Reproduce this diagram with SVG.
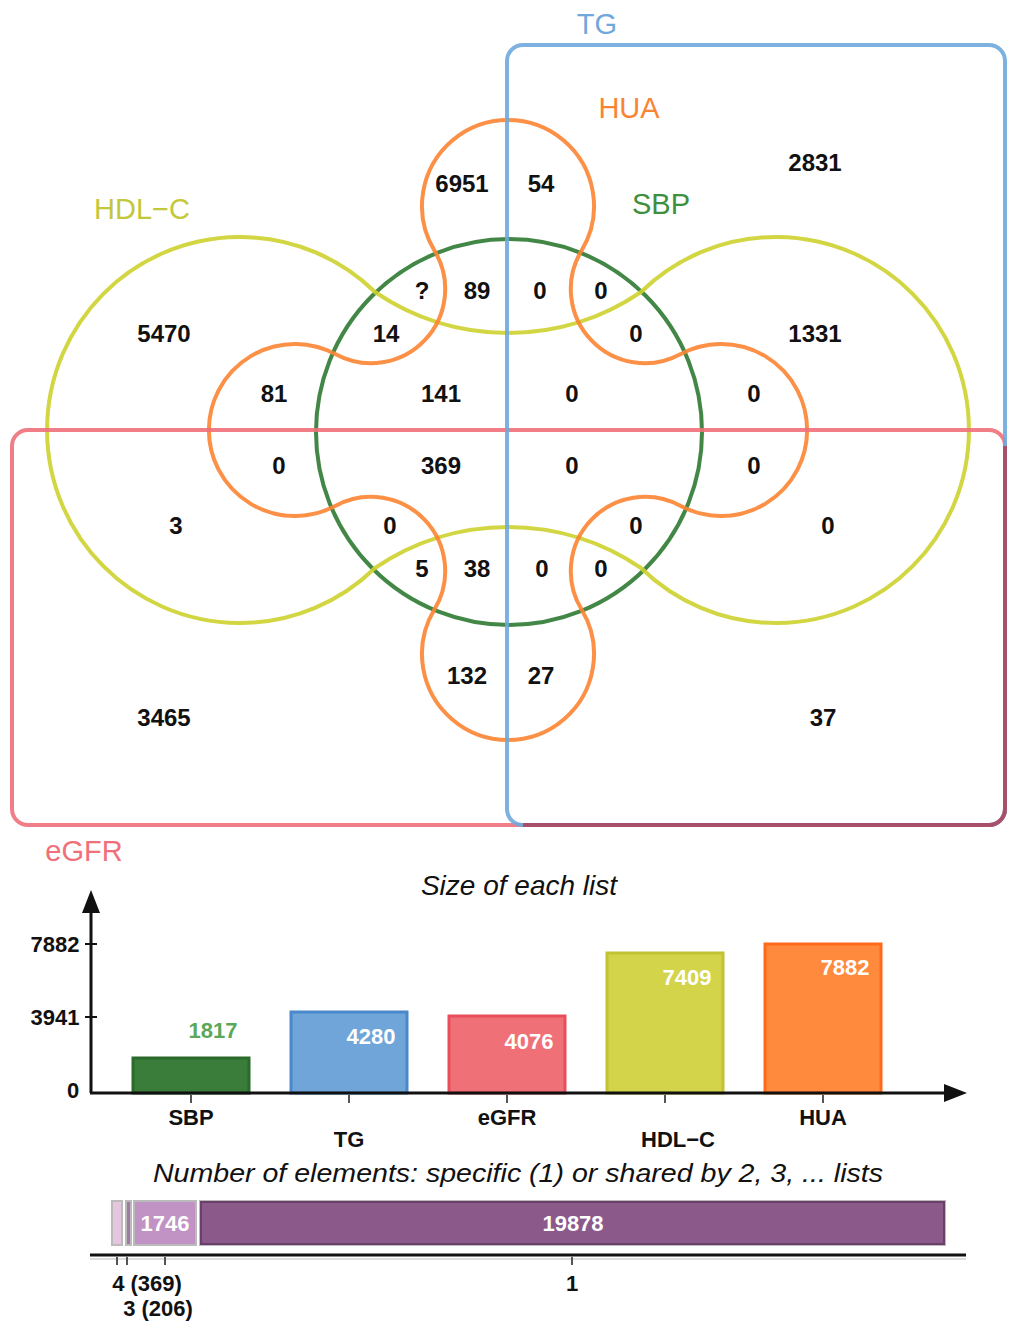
<svg xmlns="http://www.w3.org/2000/svg" width="1018" height="1328" viewBox="0 0 1018 1328">
<style>
.n{font-family:"Liberation Sans",Arial,sans-serif;font-weight:bold;font-size:24px;fill:#111;text-anchor:middle}
.lab{font-family:"Liberation Sans",Arial,sans-serif;font-size:29px;text-anchor:middle}
.ax{font-family:"Liberation Sans",Arial,sans-serif;font-weight:bold;font-size:22px;fill:#111;text-anchor:middle}
.bv{font-family:"Liberation Sans",Arial,sans-serif;font-weight:bold;font-size:22px;fill:#fff;text-anchor:middle}
.tt{font-family:"Liberation Sans",Arial,sans-serif;font-style:italic;font-size:28px;fill:#111;text-anchor:middle}
.sh{fill:none;stroke-width:4;stroke-opacity:0.9}
</style>
<rect width="1018" height="1328" fill="#fff"/>
<g id="venn">
<g id="sbp"><circle class="sh" cx="509" cy="432" r="193" stroke="#2e7a32"/></g>
<g id="hdlc"><path class="sh" stroke="#cdd22f" d="M375,292 A236,236 0 0 0 641,292 A193,193 0 1 1 641,568 A236,236 0 0 0 375,568 A193,193 0 1 1 375,292 Z"/></g>
<g id="hua"><path class="sh" stroke="#fb8432" d="M434.4,250.5 A86,86 0 1 1 581.6,250.5 A74.2,74.2 0 0 0 680.3,354.3 A86,86 0 1 1 680.3,505.7 A74.2,74.2 0 0 0 581.6,609.5 A86,86 0 1 1 434.4,609.5 A74.2,74.2 0 0 0 335.7,505.7 A86,86 0 1 1 335.7,354.3 A74.2,74.2 0 0 0 434.4,250.5 Z"/></g>
<g id="egfr"><rect class="sh" x="12" y="430" width="993" height="395" rx="16" stroke="#f0707a"/></g>
<g id="tg"><rect class="sh" x="507" y="45" width="498" height="780" rx="16" stroke="#6fa8dc"/></g>
<path d="M1005,446 V809 A16,16 0 0 1 989,825 H523" fill="none" stroke="#a8506a" stroke-width="4"/>
</g>
<g id="labels">
<text class="lab" x="597" y="34" fill="#6fa8dc">TG</text>
<text class="lab" x="629" y="118" fill="#fb8432">HUA</text>
<text class="lab" x="661" y="214" fill="#3e8f3e">SBP</text>
<text class="lab" x="142" y="219" fill="#c3c83a">HDL−C</text>
<text class="lab" x="84" y="861" fill="#f0707a">eGFR</text>
</g>
<g id="counts">
<text class="n" x="462" y="192">6951</text>
<text class="n" x="541" y="192">54</text>
<text class="n" x="815" y="171">2831</text>
<text class="n" x="422" y="299">?</text>
<text class="n" x="477" y="299">89</text>
<text class="n" x="540" y="299">0</text>
<text class="n" x="601" y="299">0</text>
<text class="n" x="164" y="342">5470</text>
<text class="n" x="386" y="342">14</text>
<text class="n" x="636" y="342">0</text>
<text class="n" x="815" y="342">1331</text>
<text class="n" x="274" y="402">81</text>
<text class="n" x="441" y="402">141</text>
<text class="n" x="572" y="402">0</text>
<text class="n" x="754" y="402">0</text>
<text class="n" x="279" y="474">0</text>
<text class="n" x="441" y="474">369</text>
<text class="n" x="572" y="474">0</text>
<text class="n" x="754" y="474">0</text>
<text class="n" x="176" y="534">3</text>
<text class="n" x="390" y="534">0</text>
<text class="n" x="636" y="534">0</text>
<text class="n" x="828" y="534">0</text>
<text class="n" x="422" y="577">5</text>
<text class="n" x="477" y="577">38</text>
<text class="n" x="542" y="577">0</text>
<text class="n" x="601" y="577">0</text>
<text class="n" x="467" y="684">132</text>
<text class="n" x="541" y="684">27</text>
<text class="n" x="164" y="726">3465</text>
<text class="n" x="823" y="726">37</text>
</g>
<g id="barchart">
<text class="tt" x="519" y="895">Size of each list</text>
<g id="bar-sbp"><rect x="133" y="1058" width="116" height="35" fill="#3a7d3a" stroke="#2a6a2a" stroke-width="3"/><text class="bv" x="213" y="1038" fill="#5aa85a" style="fill:#5aa85a">1817</text></g>
<g id="bar-tg"><rect x="291" y="1012" width="116" height="81" fill="#6fa5d8" stroke="#4a88cc" stroke-width="3"/><text class="bv" x="371" y="1044">4280</text></g>
<g id="bar-egfr"><rect x="449" y="1016" width="116" height="77" fill="#f07077" stroke="#e84f5a" stroke-width="3"/><text class="bv" x="529" y="1049">4076</text></g>
<g id="bar-hdlc"><rect x="607" y="953" width="116" height="140" fill="#d4d44a" stroke="#c2c232" stroke-width="3"/><text class="bv" x="687" y="985">7409</text></g>
<g id="bar-hua"><rect x="765" y="944" width="116" height="149" fill="#ff8a3d" stroke="#ff6a1a" stroke-width="3"/><text class="bv" x="845" y="975">7882</text></g>
<g id="axes" stroke="#111" stroke-width="3" fill="none">
<line x1="91" y1="1093" x2="91" y2="905"/>
<line x1="90" y1="1093" x2="950" y2="1093"/>
<line x1="85" y1="944" x2="97" y2="944" stroke-width="2"/>
<line x1="85" y1="1017" x2="97" y2="1017" stroke-width="2"/>
<g stroke="#555" stroke-width="2">
<line x1="191" y1="1095" x2="191" y2="1103"/>
<line x1="349" y1="1095" x2="349" y2="1103"/>
<line x1="507" y1="1095" x2="507" y2="1103"/>
<line x1="665" y1="1095" x2="665" y2="1103"/>
<line x1="823" y1="1095" x2="823" y2="1103"/>
</g>
</g>
<polygon points="91,890 82,913 100,913" fill="#111"/>
<polygon points="967,1093 944,1084 944,1102" fill="#111"/>
<text class="ax" x="55" y="952">7882</text>
<text class="ax" x="55" y="1025">3941</text>
<text class="ax" x="73" y="1098">0</text>
<text class="ax" x="191" y="1125">SBP</text>
<text class="ax" x="349" y="1147">TG</text>
<text class="ax" x="507" y="1125">eGFR</text>
<text class="ax" x="678" y="1147">HDL−C</text>
<text class="ax" x="823" y="1125">HUA</text>
</g>
<g id="sharebar">
<text class="tt" x="518" y="1182" style="font-size:26px" textLength="730" lengthAdjust="spacingAndGlyphs">Number of elements: specific (1) or shared by 2, 3, ... lists</text>
<g stroke="#bbb" stroke-width="2">
<rect x="112" y="1201" width="10" height="44" fill="#e6c6df"/>
<rect x="126" y="1201" width="5" height="44" fill="#a07aa0"/>
<rect x="134" y="1201" width="62" height="44" fill="#c093c4"/>
<rect x="200" y="1201" width="745" height="44" fill="#8b5a8b"/>
</g>
<rect x="201" y="1202" width="743" height="42" fill="none" stroke="#6a3f6a" stroke-width="2"/>
<text class="bv" x="165" y="1231">1746</text>
<text class="bv" x="573" y="1231">19878</text>
<line x1="90" y1="1255" x2="966" y2="1255" stroke="#111" stroke-width="3"/>
<line x1="90" y1="1259" x2="966" y2="1259" stroke="#ddd" stroke-width="2"/>
<g stroke="#555" stroke-width="2">
<line x1="117" y1="1257" x2="117" y2="1265"/>
<line x1="127" y1="1257" x2="127" y2="1265"/>
<line x1="165" y1="1257" x2="165" y2="1265"/>
<line x1="572" y1="1257" x2="572" y2="1265"/>
</g>
<text class="ax" x="147" y="1291">4 (369)</text>
<text class="ax" x="158" y="1316">3 (206)</text>
<text class="ax" x="572" y="1291">1</text>
</g>
</svg>
